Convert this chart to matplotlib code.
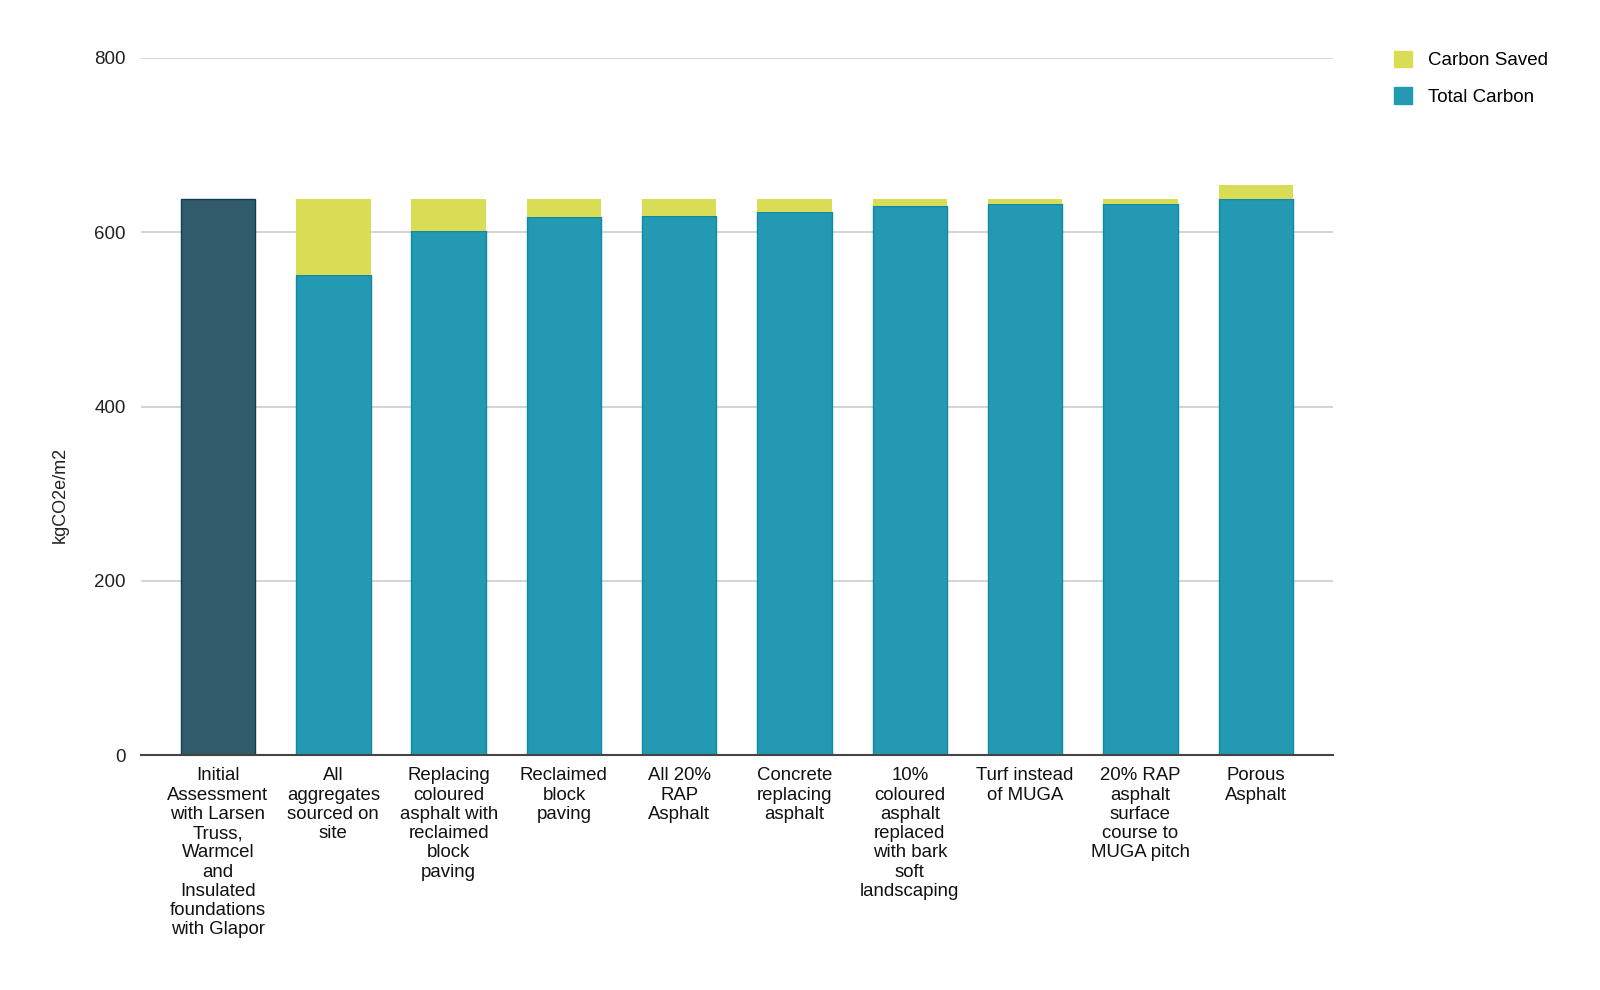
import matplotlib
matplotlib.use("Agg")
import matplotlib.pyplot as plt
from matplotlib.patches import Patch

plt.rcParams['font.family'] = ['Liberation Sans', 'DejaVu Sans']

categories = [
    "Initial\nAssessment\nwith Larsen\nTruss,\nWarmcel\nand\nInsulated\nfoundations\nwith Glapor",
    "All\naggregates\nsourced on\nsite",
    "Replacing\ncoloured\nasphalt with\nreclaimed\nblock\npaving",
    "Reclaimed\nblock\npaving",
    "All 20%\nRAP\nAsphalt",
    "Concrete\nreplacing\nasphalt",
    "10%\ncoloured\nasphalt\nreplaced\nwith bark\nsoft\nlandscaping",
    "Turf instead\nof MUGA",
    "20% RAP\nasphalt\nsurface\ncourse to\nMUGA pitch",
    "Porous\nAsphalt",
]
total_carbon = [637.7, 551.5, 602, 617, 619, 623, 630, 632, 632, 637.7]
carbon_saved = [0, 86.2, 35.7, 20.7, 18.7, 14.7, 7.7, 5.7, 5.7, 17]
y_ticks = [0, 200, 400, 600, 800]

teal = '#2499B3'
teal_edge = '#1189A4'
dark = '#305B6B'
dark_edge = '#0E3F55'
yellow = '#D9DD55'

fig = plt.figure(figsize=(16, 9.9), dpi=100)
ax = fig.add_axes([141/1600, 1-755/990, (1333-141)/1600, (755-58)/990])

x = list(range(len(categories)))
w = 0.645
face = [dark if i == 0 else teal for i in x]
edge = [dark_edge if i == 0 else teal_edge for i in x]
ax.bar(x, total_carbon, width=w, color=face, edgecolor=edge, linewidth=1.0, zorder=3)
ax.bar(x, carbon_saved, width=w, bottom=total_carbon, color=yellow,
       linewidth=0, zorder=3)

ax.set_xlim(-0.668, 9.67)
ax.set_ylim(0, 800)
ax.set_yticks(y_ticks)
ax.set_yticklabels([str(t) for t in y_ticks], fontsize=13.5, color='#222222')
ax.set_xticks(x)
ax.set_xticklabels(categories, fontsize=13.4, color='#111111', linespacing=1.17, va='top')
ax.tick_params(axis='x', length=0, pad=9)
ax.tick_params(axis='y', length=0, pad=11)
ax.grid(axis='y', color='#CCCCCC', linewidth=1.2, zorder=0)
for s in ['top', 'right', 'left']:
    ax.spines[s].set_visible(False)
ax.spines['bottom'].set_color('#444444')
ax.spines['bottom'].set_linewidth(1.5)
ax.spines['bottom'].set_zorder(4)

fig.text(60/1600, 0.5, "kgCO2e/m2", rotation=90, ha='center', va='center',
         fontsize=13, color='#222222')

handles = [Patch(facecolor=yellow, edgecolor=yellow, label='Carbon Saved'),
           Patch(facecolor=teal, edgecolor=teal, label='Total Carbon')]
fig.legend(handles=handles, loc='upper left', bbox_to_anchor=(1386/1600, 1-43/990),
           frameon=False, fontsize=13.5, handlelength=1.0, handleheight=1.0,
           handletextpad=0.85, labelspacing=0.95, borderaxespad=0)

fig.savefig('out.png', dpi=100)
